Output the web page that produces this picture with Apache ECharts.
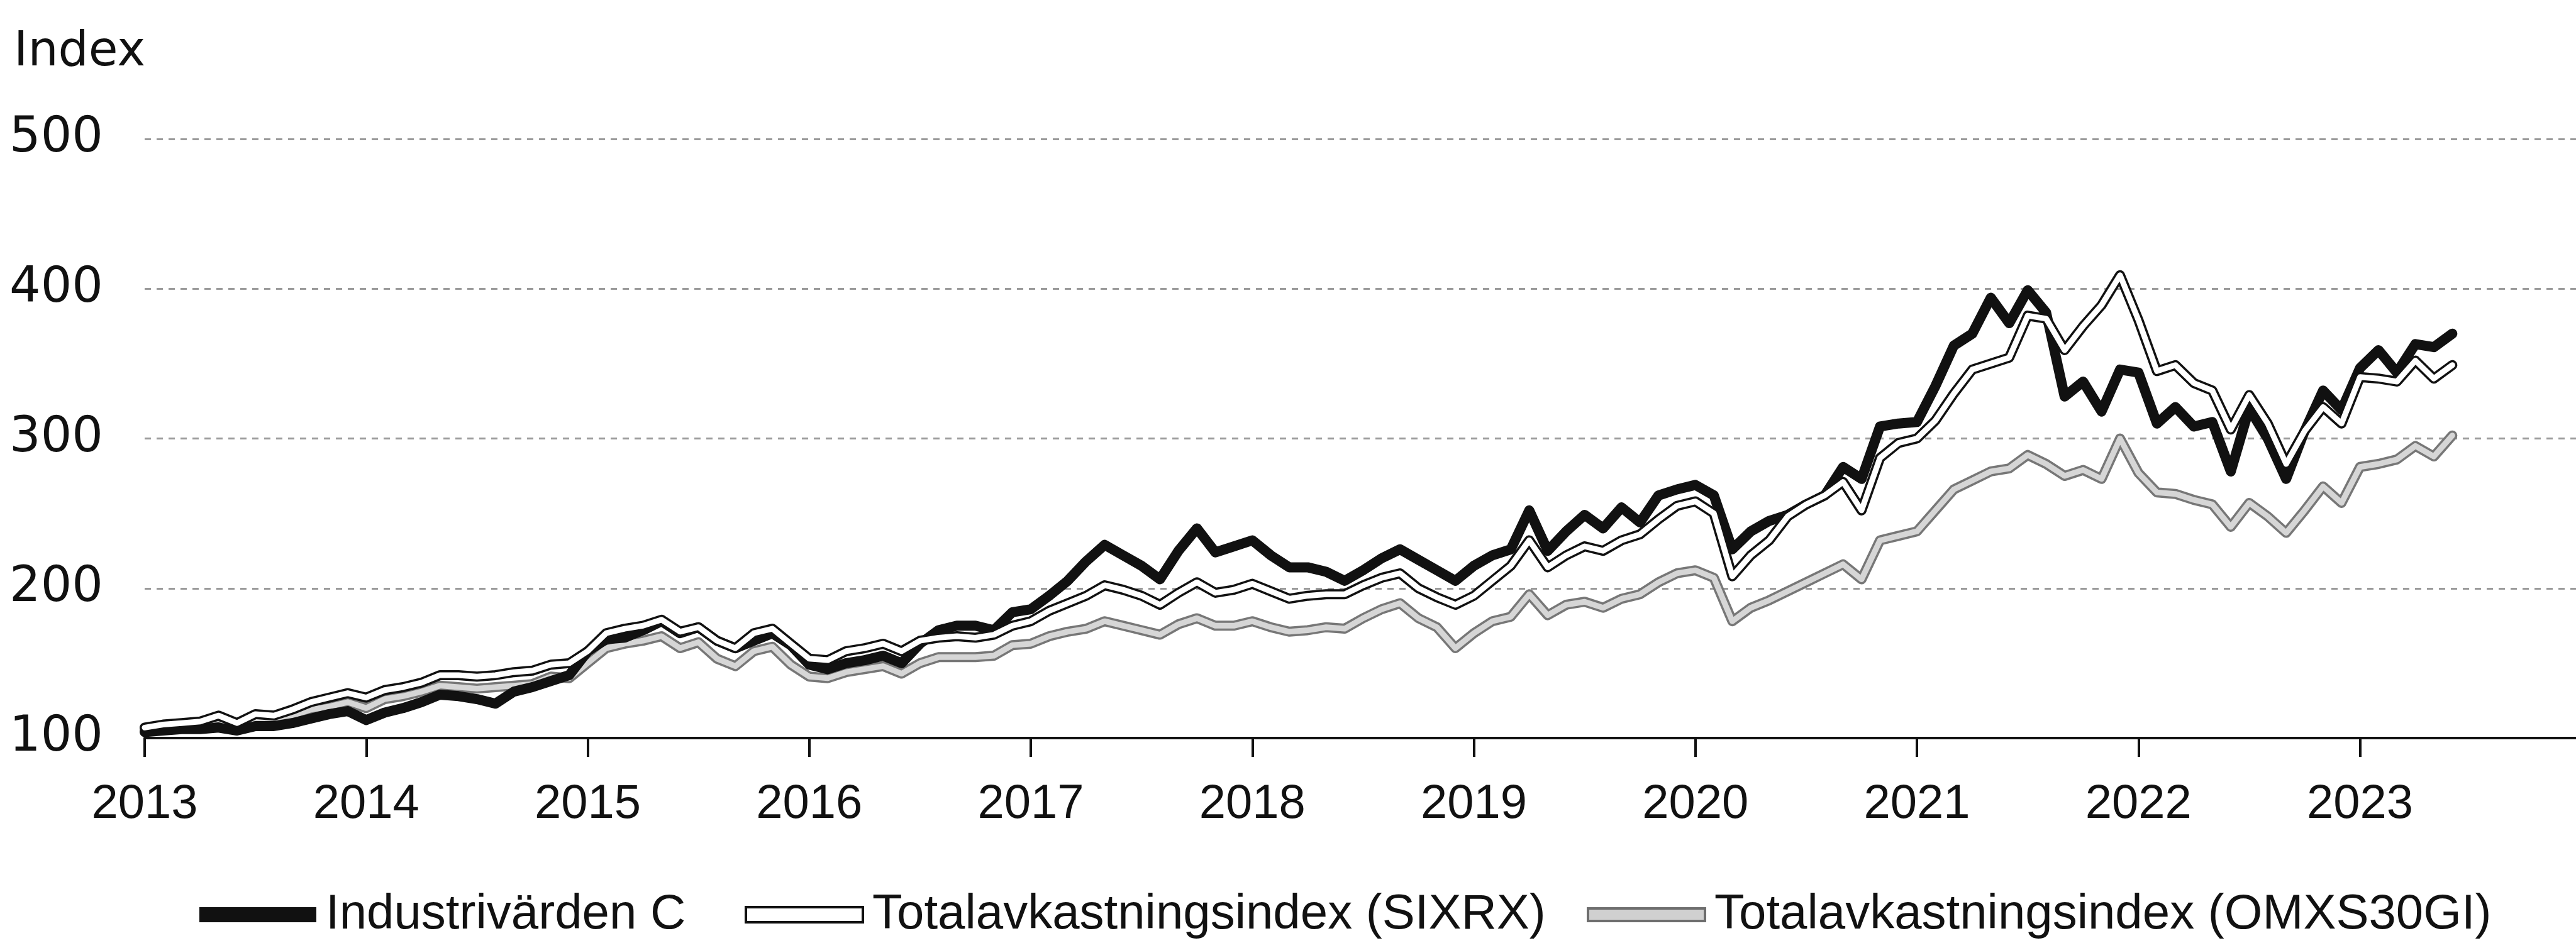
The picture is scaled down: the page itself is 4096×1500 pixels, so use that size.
<!DOCTYPE html>
<html>
<head>
<meta charset="utf-8">
<script src="https://cdn.jsdelivr.net/npm/echarts@6/dist/echarts.min.js"></script>
<style>
html,body{margin:0;padding:0;background:#fff;}
#chart{width:4096px;height:1500px;}
</style>
</head>
<body>
<div id="chart"></div>
<script>
// Monthly values, Jan 2013 .. Jun 2023 (index 0 = Jan 2013)
const startYear = 2013;
const yearTicks = [2013,2014,2015,2016,2017,2018,2019,2020,2021,2022,2023];
const yTicks = [100,200,300,400,500];
const seriesNames = ['Industrivärden C','Totalavkastningsindex (SIXRX)','Totalavkastningsindex (OMXS30GI)'];

const industrivarden = [
  104,105,106,106,107,105,108,108,110,113,116,118,
  112,117,120,124,129,128,126,123,131,134,138,142,
  158,166,167,172,178,170,174,165,160,165,170,162,
  149,146,150,152,155,150,163,172,175,175,172,184,
  186,195,205,218,229,222,215,206,225,240,224,228,
  232,222,214,214,211,205,212,220,226,219,212,205,
  215,222,226,252,225,238,249,240,254,244,262,266,
  269,262,226,238,245,249,256,262,281,273,308,310,
  311,335,362,370,394,377,399,384,328,338,318,346,
  344,310,321,308,311,278,320,300,273,305,332,319,
  347,359,344,363,361,370
];
const sixrx = [
  107,109,110,111,115,110,116,115,119,124,127,130,
  127,132,134,137,142,142,141,142,144,145,149,150,
  158,170,173,175,179,171,174,165,160,170,173,163,
  153,152,158,160,163,158,165,167,168,167,169,175,
  178,185,190,195,202,199,195,189,197,204,197,199,
  203,198,193,195,196,196,202,207,210,200,194,189,
  195,205,215,232,214,222,228,225,232,236,246,255,
  258,250,208,222,232,248,256,262,271,252,287,297,
  300,312,330,346,350,354,382,380,359,375,389,409,
  379,345,349,337,332,306,329,310,283,305,321,310,
  341,340,338,352,340,349
];
const omxs30gi = [
  106,108,108,109,113,107,113,111,115,119,121,124,
  120,126,128,131,135,134,133,134,135,136,141,140,
  150,160,163,165,168,160,164,153,148,158,161,149,
  141,140,144,146,148,143,150,154,154,154,155,162,
  163,168,171,173,178,175,172,169,176,180,175,175,
  178,174,171,172,174,173,180,186,190,180,174,160,
  170,178,181,196,182,189,191,187,193,196,204,210,
  212,207,178,187,192,198,204,210,216,206,232,235,
  238,252,266,272,278,280,289,283,275,279,273,300,
  277,264,263,259,256,241,257,248,237,252,268,257,
  281,283,286,295,288,302
];

function toPairs(arr){ return arr.map((v,k)=>[startYear + k/12, v]); }

const FONT = "'Liberation Sans', Arial, sans-serif";
const FONT_Y = "'DejaVu Sans', 'Liberation Sans', sans-serif";

const chart = echarts.init(document.getElementById('chart'), null, {renderer:'canvas'});

const legendCommon = {
  orient:'horizontal', top: 1411, itemWidth: 186, itemHeight: 24,
  selectedMode:false,
  textStyle:{fontFamily:FONT, fontSize:78, color:'#111', padding:[0,0,0,10]}
};

chart.setOption({
  animation:false,
  backgroundColor:'#fff',
  grid:{left:230, right:-30, top:221, bottom:326, containLabel:false},
  graphic:[{type:'text', left:22, top:46, style:{text:'Index', font:"76px " + FONT_Y, fill:'#111'}}],
  legend:[
    Object.assign({}, legendCommon, {left:312, data:[{name:seriesNames[0], icon:'rect', itemStyle:{color:'#111', borderWidth:0}}]}),
    Object.assign({}, legendCommon, {left:1179, data:[{name:seriesNames[1], icon:'rect', itemStyle:{color:'#fff', borderColor:'#111', borderWidth:4}}]}),
    Object.assign({}, legendCommon, {left:2518, itemHeight:20, data:[{name:seriesNames[2], icon:'rect', itemStyle:{color:'#d0d0d0', borderColor:'#6e6e6e', borderWidth:4}}]})
  ],
  xAxis:{
    type:'value', min:2013, max:2023.975,
    axisLine:{show:true, onZero:false, lineStyle:{color:'#111', width:4}},
    axisTick:{show:true, length:30, customValues:yearTicks, lineStyle:{color:'#111', width:4}},
    splitLine:{show:false},
    axisLabel:{margin:68, fontFamily:FONT, fontSize:76, color:'#111', customValues:yearTicks,
      formatter:function(v){ return String(Math.round(v)); }}
  },
  yAxis:{
    type:'value', min:100, max:500, interval:100,
    axisLine:{show:false}, axisTick:{show:false},
    axisLabel:{margin:66, fontFamily:FONT_Y, fontSize:78, color:'#111',
      customValues:yTicks, formatter:function(v){ return String(v); }},
    splitLine:{show:true, lineStyle:{color:'#9a9a9a', width:3, type:[10,9]}}
  },
  series:[
    {name:seriesNames[2], type:'line', data:toPairs(omxs30gi), showSymbol:false, symbol:'none', z:2,
      lineStyle:{color:'#777777', width:16, join:'round', cap:'round'}, itemStyle:{color:'#777777'}},
    {name:'omx_inner', type:'line', data:toPairs(omxs30gi), showSymbol:false, symbol:'none', z:3, silent:true,
      lineStyle:{color:'#d6d6d6', width:9, join:'round', cap:'round'}},
    {name:seriesNames[0], type:'line', data:toPairs(industrivarden), showSymbol:false, symbol:'none', z:4,
      lineStyle:{color:'#111', width:16, join:'round', cap:'round'}, itemStyle:{color:'#111'}},
    {name:seriesNames[1], type:'line', data:toPairs(sixrx), showSymbol:false, symbol:'none', z:5,
      lineStyle:{color:'#111', width:16, join:'round', cap:'round'}, itemStyle:{color:'#111'}},
    {name:'sixrx_inner', type:'line', data:toPairs(sixrx), showSymbol:false, symbol:'none', z:6, silent:true,
      lineStyle:{color:'#ffffff', width:9, join:'round', cap:'round'}}
  ]
});
</script>
</body>
</html>
